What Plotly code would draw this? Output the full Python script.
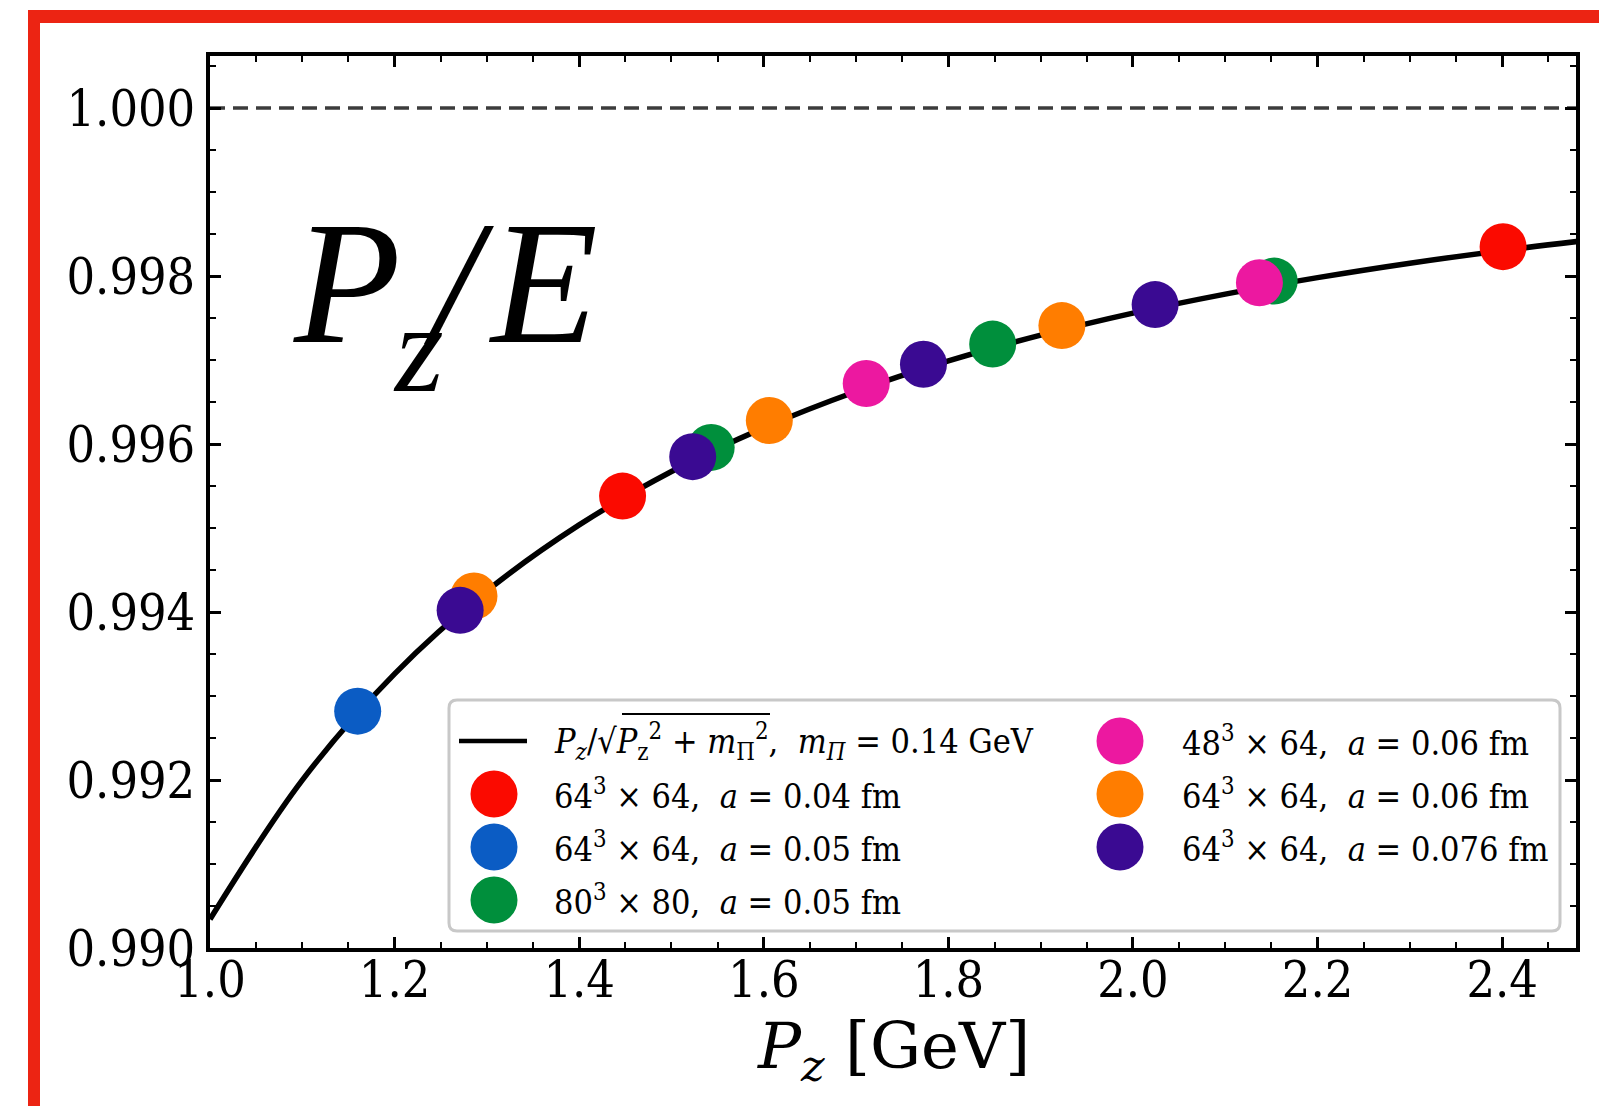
import plotly.graph_objects as go

# ---------------- data ----------------
curve_x = [1.0, 1.1, 1.2, 1.3, 1.4, 1.5, 1.6, 1.7, 1.8, 1.9, 2.0, 2.1, 2.2, 2.3, 2.4, 2.5]
curve_y = [0.990342, 0.991999, 0.993264, 0.994251, 0.995037, 0.995673, 0.996194,
           0.996626, 0.996989, 0.997296, 0.997559, 0.997785, 0.997981, 0.998153,
           0.998303, 0.998436]
curve_label = ("<i>P<sub>z</sub></i>/√<i>P</i><sub>z</sub><sup>2</sup> + <i>m</i><sub>Π</sub><sup>2</sup>,"
               "  <i>m<sub>Π</sub></i> = 0.14 GeV")

labels = [
    "64<sup>3</sup> × 64,  <i>a</i> = 0.04 fm",
    "64<sup>3</sup> × 64,  <i>a</i> = 0.05 fm",
    "80<sup>3</sup> × 80,  <i>a</i> = 0.05 fm",
    "48<sup>3</sup> × 64,  <i>a</i> = 0.06 fm",
    "64<sup>3</sup> × 64,  <i>a</i> = 0.06 fm",
    "64<sup>3</sup> × 64,  <i>a</i> = 0.076 fm",
]
colors = ["#fb0a00", "#0b5cc4", "#008f3c", "#ec18a0", "#ff7d00", "#3a0a92"]
xs = [
    [1.447, 2.401],
    [1.160],
    [1.543, 1.848, 2.153],
    [1.711, 2.137],
    [1.286, 1.606, 1.923],
    [1.271, 1.523, 1.773, 2.024],
]
ys = [
    [0.99538, 0.99835],
    [0.99282],
    [0.99596, 0.99719, 0.99794],
    [0.99672, 0.99792],
    [0.99419, 0.99628, 0.99741],
    [0.99402, 0.99585, 0.99695, 0.99766],
]
ref_line_y = 1.0

x_range = [1.0, 2.48]
y_range = [0.990, 1.00062]

# ---------------- layout geometry ----------------
W, H = 1599, 1106
ML, MR, MT, MB = 210, 23, 56, 158
PW, PH = W - ML - MR, H - MT - MB


def px(x):
    return (x - ML) / PW


def py(y):
    return (H - MB - y) / PH


fig = go.Figure()

fig.add_trace(go.Scatter(x=curve_x, y=curve_y, mode="lines",
                         line=dict(color="black", width=5.5, shape="spline"),
                         showlegend=False, hoverinfo="skip"))

for lab, c, x, y in zip(labels, colors, xs, ys):
    fig.add_trace(go.Scatter(x=x, y=y, mode="markers", name=lab,
                             marker=dict(color=c, size=47, line=dict(width=0)),
                             showlegend=False))

shapes = []
annotations = []

# dashed reference line
shapes.append(dict(type="line", xref="x domain", yref="y", x0=0, x1=1, y0=ref_line_y, y1=ref_line_y,
                   line=dict(color="#3c3c3c", width=3.5, dash="15px,8px"), layer="below"))

# red frame decoration
red = "#ec2413"
shapes.append(dict(type="rect", xref="paper", yref="paper", x0=px(28), x1=px(W + 5), y0=py(23), y1=py(10),
                   fillcolor=red, line=dict(width=0), layer="above"))
shapes.append(dict(type="rect", xref="paper", yref="paper", x0=px(28), x1=px(40), y0=py(H + 5), y1=py(10),
                   fillcolor=red, line=dict(width=0), layer="above"))

# legend box (rounded)
bx0, bx1, by0, by1 = 449, 1560, 700, 931
rx, ry = 8 / PW, 8 / PH
X0, X1, Y0, Y1 = px(bx0), px(bx1), py(by1), py(by0)
path = (f"M {X0+rx},{Y0} L {X1-rx},{Y0} Q {X1},{Y0} {X1},{Y0+ry} L {X1},{Y1-ry} "
        f"Q {X1},{Y1} {X1-rx},{Y1} L {X0+rx},{Y1} Q {X0},{Y1} {X0},{Y1-ry} L {X0},{Y0+ry} "
        f"Q {X0},{Y0} {X0+rx},{Y0} Z")
shapes.append(dict(type="path", xref="paper", yref="paper", path=path, fillcolor="rgba(255,255,255,0.85)",
                   line=dict(color="#c8c8c8", width=3), layer="above"))

row_y = [741, 794, 847, 900]
col_sym = [494, 1120]
col_txt = [552, 1180]
leg_font = dict(family="DejaVu Serif Condensed, DejaVu Serif", size=34, color="black")

# line entry
shapes.append(dict(type="line", xref="paper", yref="paper", x0=px(459), x1=px(527), y0=py(row_y[0]), y1=py(row_y[0]),
                   line=dict(color="black", width=4.5), layer="above"))
annotations.append(dict(x=px(col_txt[0]), y=py(row_y[0]), xref="paper", yref="paper", text=curve_label,
                        showarrow=False, xanchor="left", yanchor="middle", font=leg_font))
# square-root vinculum
shapes.append(dict(type="line", xref="paper", yref="paper", x0=px(622), x1=px(770), y0=py(714), y1=py(714),
                   line=dict(color="black", width=2), layer="above"))

slots = [(0, 1), (0, 2), (0, 3), (1, 0), (1, 1), (1, 2)]
for (col, row), lab, c in zip(slots, labels, colors):
    shapes.append(dict(type="circle", xref="paper", yref="paper", xsizemode="pixel", ysizemode="pixel",
                       xanchor=px(col_sym[col]), yanchor=py(row_y[row]), x0=-23.5, x1=23.5, y0=-23.5, y1=23.5,
                       fillcolor=c, line=dict(width=0), layer="above"))
    annotations.append(dict(x=px(col_txt[col]), y=py(row_y[row]), xref="paper", yref="paper", text=lab,
                            showarrow=False, xanchor="left", yanchor="middle", font=leg_font))

# big P_z/E label, built from pieces
big = dict(family="Liberation Serif", size=175, color="black")
sub = dict(family="Liberation Serif", size=125, color="black")
annotations.append(dict(x=px(291), y=py(342 - 0.3375 * 175), xref="paper", yref="paper", text="<i>P</i>",
                        showarrow=False, xanchor="left", yanchor="middle", font=big))
annotations.append(dict(x=px(391), y=py(391 - 0.3375 * 125), xref="paper", yref="paper", text="<i>z</i>",
                        showarrow=False, xanchor="left", yanchor="middle", font=sub))
annotations.append(dict(x=px(421), y=py(342 - 0.3375 * 175), xref="paper", yref="paper", text="<i>/</i>",
                        showarrow=False, xanchor="left", yanchor="middle", font=big))
annotations.append(dict(x=px(486), y=py(342 - 0.3375 * 175), xref="paper", yref="paper", text="<i>E</i>",
                        showarrow=False, xanchor="left", yanchor="middle", font=big))

# x-axis title
annotations.append(dict(x=0.5, y=py(1050), xref="paper", yref="paper", text="<i>P<sub>z</sub></i> [GeV]",
                        showarrow=False, xanchor="center", yanchor="middle",
                        font=dict(family="DejaVu Serif", size=64, color="black")))

tick_font = dict(family="DejaVu Serif Condensed, DejaVu Serif", size=50, color="black")
axis_common = dict(showline=True, linecolor="black", linewidth=3.5, mirror="allticks", ticks="inside",
                   ticklen=11, tickwidth=2.5, tickcolor="black", showgrid=False, zeroline=False,
                   tickfont=tick_font)

fig.update_layout(
    width=W, height=H,
    margin=dict(l=ML, r=MR, t=MT, b=MB, pad=0),
    paper_bgcolor="white", plot_bgcolor="white",
    showlegend=False,
    shapes=shapes, annotations=annotations,
    xaxis=dict(range=x_range, dtick=0.2, tick0=1.0, tickformat=".1f", ticklabelstandoff=-15,
               minor=dict(dtick=0.05, ticks="inside", ticklen=6, tickwidth=2, tickcolor="black"),
               **axis_common),
    yaxis=dict(range=y_range, dtick=0.002, tick0=0.99, tickformat=".3f", ticklabelstandoff=1,
               minor=dict(dtick=0.0005, ticks="inside", ticklen=6, tickwidth=2, tickcolor="black"),
               **axis_common),
)

fig.write_html("out.html")
